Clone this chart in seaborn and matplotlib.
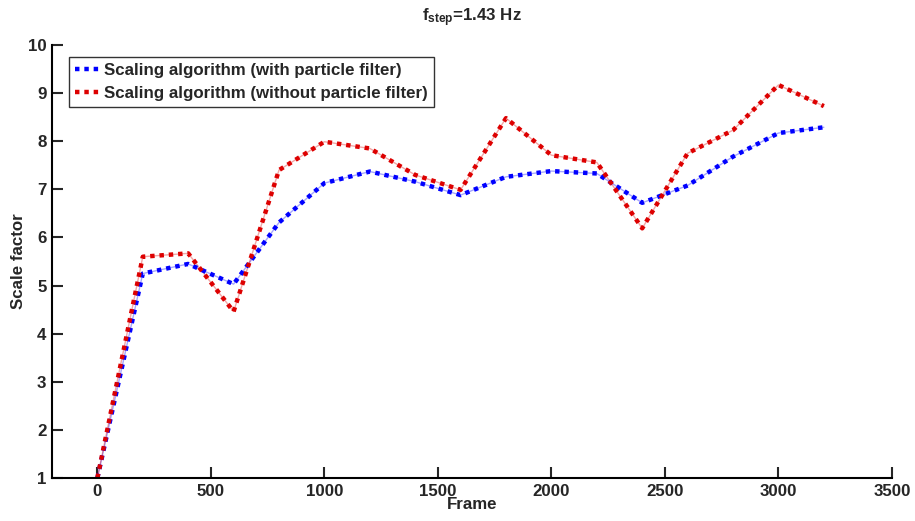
import matplotlib
matplotlib.use("Agg")
import matplotlib.pyplot as plt
import seaborn as sns
import pandas as pd

frames = [0, 200, 400, 600, 800, 1000, 1200, 1400, 1600, 1800, 2000, 2200, 2400, 2600, 2800, 3000, 3200]
with_pf = [1.0, 5.25, 5.45, 5.03, 6.31, 7.13, 7.37, 7.16, 6.88, 7.26, 7.38, 7.33, 6.72, 7.08, 7.68, 8.17, 8.29]
without_pf = [1.0, 5.6, 5.67, 4.46, 7.40, 7.99, 7.85, 7.30, 6.99, 8.48, 7.71, 7.56, 6.19, 7.75, 8.23, 9.17, 8.73]
series_names = ["Scaling algorithm (with particle filter)", "Scaling algorithm (without particle filter)"]
xticks = [0, 500, 1000, 1500, 2000, 2500, 3000, 3500]
yticks = [1, 2, 3, 4, 5, 6, 7, 8, 9, 10]

df = pd.DataFrame({
    "Frame": frames * 2,
    "Scale": with_pf + without_pf,
    "Series": [series_names[0]] * len(frames) + [series_names[1]] * len(frames),
})

sns.set_style("ticks")
plt.rcParams["font.family"] = ["Liberation Sans", "DejaVu Sans"]
plt.rcParams["font.weight"] = "bold"
plt.rcParams["mathtext.fontset"] = "custom"
plt.rcParams["mathtext.bf"] = "Liberation Sans:bold"
plt.rcParams["mathtext.rm"] = "Liberation Sans:bold"
plt.rcParams["mathtext.it"] = "Liberation Sans:bold"

FS = 12.2

fig = plt.figure(figsize=(9.15, 5.21), dpi=100)
ax = fig.add_axes([0.0568, 0.0825, 0.918, 0.8311])

palette = {series_names[0]: "#0000ff", series_names[1]: "#dd0000"}

# thin faint underlying line
sns.lineplot(data=df, x="Frame", y="Scale", hue="Series", palette=palette,
             ax=ax, linewidth=1.0, alpha=0.35, legend=False)
sns.lineplot(data=df, x="Frame", y="Scale", hue="Series", palette=palette,
             ax=ax, linewidth=3.2, legend=True)
for line in ax.lines[2:4]:
    line.set_dashes((1.0, 1.1))
    line.set_dash_capstyle("butt")

ax.set_xlim(-200, 3500)
ax.set_ylim(1, 10)
ax.set_xticks(xticks)
ax.set_yticks(yticks)
ax.tick_params(direction="in", length=8, width=1.5, labelsize=FS, pad=4)
for lab in ax.get_xticklabels() + ax.get_yticklabels():
    lab.set_fontweight("bold")
for s in ["top", "right"]:
    ax.spines[s].set_visible(False)
for s in ["left", "bottom"]:
    ax.spines[s].set_linewidth(1.5)
    ax.spines[s].set_color("black")

ax.set_xlabel("Frame", fontsize=FS, fontweight="bold")
ax.xaxis.set_label_coords(0.5, -0.043)
ax.set_ylabel("Scale factor", fontsize=FS, fontweight="bold")
ax.yaxis.set_label_coords(-0.031, 0.5)
ax.set_title(r"$\mathbf{f_{step}}$=1.43 Hz", fontsize=FS, fontweight="bold", pad=17)

handles, labels = ax.get_legend_handles_labels()
for h in handles:
    h.set_linewidth(3.2)
    h.set_dashes((1.0, 1.1))
leg = ax.legend(handles, labels, loc="upper left", bbox_to_anchor=(0.02, 0.972),
                frameon=True, fancybox=False, edgecolor="black", fontsize=FS,
                handlelength=1.5, handletextpad=0.25, borderpad=0.35, labelspacing=0.45,
                borderaxespad=0.0)
leg.get_frame().set_linewidth(1.0)
for t in leg.get_texts():
    t.set_fontweight("bold")

fig.savefig("out.png", dpi=100)
